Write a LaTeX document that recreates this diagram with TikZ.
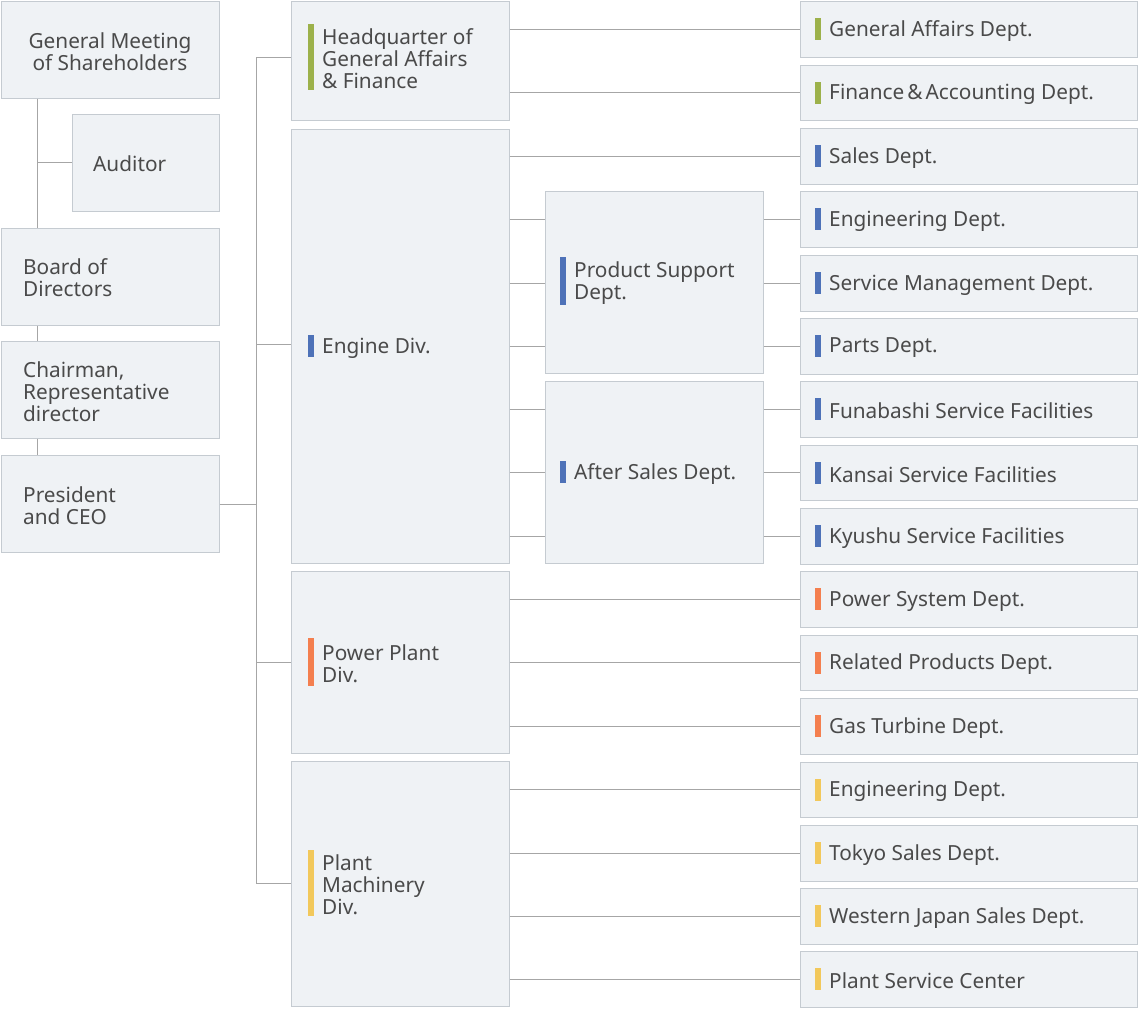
\documentclass[tikz,border=0pt]{standalone}
\usepackage{fontspec}
\setmainfont{Noto Sans}
\definecolor{bfill}{HTML}{EFF2F5}
\definecolor{bline}{HTML}{C5CBD1}
\definecolor{tcol}{HTML}{4A4A4A}
\definecolor{cg}{HTML}{9CB14A}
\definecolor{cb}{HTML}{4E72B8}
\definecolor{co}{HTML}{F47F4F}
\definecolor{cy}{HTML}{F2C85B}
\tikzset{box/.style={draw=bline,fill=bfill,line width=1pt,inner sep=0pt},
 txt/.style={text=tcol,font=\fontsize{20.8}{22}\selectfont,align=left,inner sep=0pt,anchor=west,yshift=-2pt},
 conn/.style={draw=gray!70,line width=0.9pt}}
\newcommand{\bx}[5]{\node[box,minimum width={(#4-#2)*1pt},minimum height={(#5-#3)*1pt}] (#1) at ({(#2+#4)/2},{(#3+#5)/2}) {};}
\newcommand{\lab}[5]{\pgfmathsetmacro{\ymid}{#3}\fill[#1] (#2,{\ymid-#4/2}) rectangle ({#2+6},{\ymid+#4/2}); \node[txt] at ({#2+14},{\ymid}) {#5};}
\begin{document}
\begin{tikzpicture}[x=1pt,y=-1pt]
\useasboundingbox (0,0) rectangle (1138,1026);
% left
\bx{gm}{1}{1}{219}{98}
\bx{aud}{72}{114}{219}{211}
\bx{bod}{1}{228}{219}{325}
\bx{chr}{1}{341}{219}{438}
\bx{pre}{1}{455}{219}{552}
\node[txt,anchor=center,align=center] at (gm) {General Meeting\\of Shareholders};
\node[txt] at (93,162) {Auditor};
\node[txt] at (23,276) {Board of\\Directors};
\node[txt] at (23,390) {Chairman,\\Representative\\director};
\node[txt] at (23,504) {President\\and CEO};
\coordinate (ja) at (37,162);
\draw[conn] (gm.south -| ja) -- (bod.north -| ja);
\draw[conn] (ja) -- (aud.west |- ja);
\draw[conn] (bod.south -| ja) -- (chr.north -| ja);
\draw[conn] (chr.south -| ja) -- (pre.north -| ja);
% middle
\bx{hq}{291}{1}{509}{120}
\bx{eng}{291}{129}{509}{563}
\bx{pow}{291}{571}{509}{753}
\bx{pla}{291}{761}{509}{1006}
\bx{ps}{545}{191}{763}{373}
\bx{as}{545}{381}{763}{563}
\lab{cg}{308}{57}{66}{Headquarter of\\General Affairs\\\& Finance}
\lab{cb}{308}{346}{22}{Engine Div.}
\lab{co}{308}{662}{48}{Power Plant\\Div.}
\lab{cy}{308}{883}{66}{Plant\\Machinery\\Div.}
\lab{cb}{560}{281}{48}{Product Support\\Dept.}
\lab{cb}{560}{472}{22}{After Sales Dept.}
\coordinate (sp) at (256,504);
\draw[conn] (pre.east |- sp) -- (sp);
\draw[conn] (sp |- 0,57) -- (sp |- 0,883);
\draw[conn] (sp |- 0,57) -- (hq.west |- 0,57);
\draw[conn] (sp |- 0,344) -- (eng.west |- 0,344);
\draw[conn] (sp |- 0,662) -- (pow.west |- 0,662);
\draw[conn] (sp |- 0,883) -- (pla.west |- 0,883);
% right
\foreach \n/\ya/\yb/\c/\t in {r1/1/57/cg/General Affairs Dept.,r2/65/120/cg/Finance\kern3pt\&\kern3pt Accounting Dept.,r3/128/184/cb/Sales Dept.,r4/191/247/cb/Engineering Dept.,r5/255/311/cb/Service Management Dept.,r6/318/374/cb/Parts Dept.,r7/381/437/cb/Funabashi Service Facilities,r8/445/500/cb/Kansai Service Facilities,r9/508/564/cb/Kyushu Service Facilities,r10/571/627/co/Power System Dept.,r11/635/690/co/Related Products Dept.,r12/698/754/co/Gas Turbine Dept.,r13/762/817/cy/Engineering Dept.,r14/825/881/cy/Tokyo Sales Dept.,r15/888/944/cy/Western Japan Sales Dept.,r16/951/1007/cy/Plant Service Center}{
 \bx{\n}{800}{\ya}{1137}{\yb}
 \lab{\c}{815}{(\ya+\yb)/2}{22}{\t}
}
\draw[conn] (hq.east |- r1) -- (r1.west);
\draw[conn] (hq.east |- r2) -- (r2.west);
\draw[conn] (eng.east |- r3) -- (r3.west);
\foreach \r in {r4,r5,r6}{\draw[conn] (eng.east |- \r) -- (ps.west |- \r); \draw[conn] (ps.east |- \r) -- (\r.west);}
\foreach \r in {r7,r8,r9}{\draw[conn] (eng.east |- \r) -- (as.west |- \r); \draw[conn] (as.east |- \r) -- (\r.west);}
\foreach \r in {r10,r11,r12}{\draw[conn] (pow.east |- \r) -- (\r.west);}
\foreach \r in {r13,r14,r15,r16}{\draw[conn] (pla.east |- \r) -- (\r.west);}
\end{tikzpicture}
\end{document}
